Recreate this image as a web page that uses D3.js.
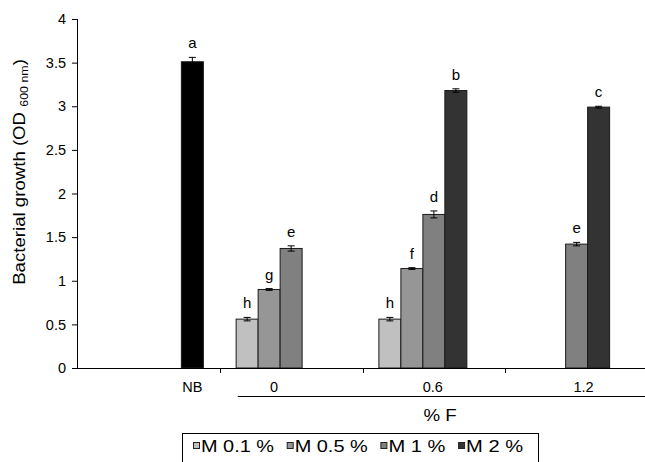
<!DOCTYPE html>
<html>
<head>
<meta charset="utf-8">
<script src="https://cdn.jsdelivr.net/npm/d3@7"></script>
<style>
  html, body { margin: 0; padding: 0; background: #fff; }
  svg { display: block; font-family: "Liberation Sans", Arial, sans-serif; }
</style>
</head>
<body>
<svg id="chart" width="645" height="462"></svg>
<script>
// ---- data ----
const categories = ["NB", "0", "0.6", "1.2"];
const series = ["M 0.1 %", "M 0.5 %", "M 1 %", "M 2 %", "NB"];
const legendSeries = ["M 0.1 %", "M 0.5 %", "M 1 %", "M 2 %"];
const valM01 = [null, 0.56, 0.56, null];
const valM05 = [null, 0.90, 1.14, null];
const valM1  = [null, 1.37, 1.76, 1.42];
const valM2  = [null, null, 3.18, 2.99];
const valNB  = [3.51, null, null, null];
const errM01 = [null, 0.02, 0.02, null];
const errM05 = [null, 0.01, 0.01, null];
const errM1  = [null, 0.03, 0.04, 0.02];
const errM2  = [null, null, 0.02, 0.01];
const errNB  = [0.05, null, null, null];
const letM01 = [null, "h", "h", null];
const letM05 = [null, "g", "f", null];
const letM1  = [null, "e", "d", "e"];
const letM2  = [null, null, "b", "c"];
const letNB  = ["a", null, null, null];
const yTicks = [0, 0.5, 1, 1.5, 2, 2.5, 3, 3.5, 4];
const yTickLabels = ["0", "0.5", "1", "1.5", "2", "2.5", "3", "3.5", "4"];
const yLabelMain = "Bacterial growth (OD ";
const yLabelSub = "600 nm";
const xTitle = "% F";

const seriesValues = [valM01, valM05, valM1, valM2, valNB];
const seriesErrors = [errM01, errM05, errM1, errM2, errNB];
const seriesLetters = [letM01, letM05, letM1, letM2, letNB];
const colors = ["#c0c0c0", "#969696", "#808080", "#333333", "#000000"];

// ---- layout ----
(function () {
const svg = d3.select("#chart");
const mLeft = 77, mRight = 648, mTop = 19, mBottom = 368;

const x = d3.scaleBand().domain(categories).range([mLeft, mRight]).paddingInner(0).paddingOuter(0);
const sub = d3.scaleBand().domain(series).range([0, x.bandwidth()]).paddingInner(0).paddingOuter(0.745);
const y = d3.scaleLinear().domain([0, 4]).range([mBottom, mTop]);

const rows = [];
series.forEach((s, si) => {
  categories.forEach((c, ci) => {
    const v = seriesValues[si][ci];
    if (v != null) rows.push({s, si, c, v, e: seriesErrors[si][ci], l: seriesLetters[si][ci]});
  });
});

// bars
svg.append("g").selectAll("rect").data(rows).join("rect")
  .attr("x", d => x(d.c) + sub(d.s))
  .attr("y", d => y(d.v))
  .attr("width", sub.bandwidth())
  .attr("height", d => y(0) - y(d.v))
  .attr("fill", d => colors[d.si])
  .attr("stroke", "#1a1a1a")
  .attr("stroke-width", 1);

// error bars
const eg = svg.append("g").attr("stroke", "#000").attr("stroke-width", 1);
rows.forEach(d => {
  const cx = x(d.c) + sub(d.s) + sub.bandwidth() / 2;
  eg.append("line").attr("x1", cx).attr("x2", cx).attr("y1", y(d.v - d.e)).attr("y2", y(d.v + d.e));
  eg.append("line").attr("x1", cx - 3.5).attr("x2", cx + 3.5).attr("y1", y(d.v + d.e)).attr("y2", y(d.v + d.e));
  eg.append("line").attr("x1", cx - 3.5).attr("x2", cx + 3.5).attr("y1", y(d.v - d.e)).attr("y2", y(d.v - d.e));
});

// letters
svg.append("g").selectAll("text").data(rows).join("text")
  .attr("x", d => x(d.c) + sub(d.s) + sub.bandwidth() / 2)
  .attr("y", d => y(d.v + d.e) - 9)
  .attr("text-anchor", "middle")
  .attr("font-size", 15)
  .attr("fill", "#000")
  .text(d => d.l);

// y axis
const yAxis = d3.axisLeft(y).tickValues(yTicks).tickFormat((d, i) => yTickLabels[i]).tickSize(5).tickSizeOuter(0).tickPadding(6);
const yg = svg.append("g").attr("transform", `translate(${mLeft},0)`).call(yAxis);
yg.selectAll("text").attr("font-size", 14.5).attr("font-family", "Liberation Sans, Arial, sans-serif").attr("fill", "#000");
yg.selectAll("line, path").attr("stroke", "#000");
yg.select(".domain").attr("d", `M0.5,${mTop}V${mBottom}`);

// x axis line with boundary ticks
const xg = svg.append("g").attr("stroke", "#000").attr("stroke-width", 1);
xg.append("line").attr("x1", mLeft).attr("x2", 645).attr("y1", mBottom + 0.5).attr("y2", mBottom + 0.5);
categories.slice(1).forEach(c => {
  const bx = Math.round(x(c)) + 0.5;
  xg.append("line").attr("x1", bx).attr("x2", bx).attr("y1", mBottom).attr("y2", mBottom + 5);
});

// category labels
const labelOffsets = [0, -17, -1, 7];
svg.append("g").selectAll("text").data(categories).join("text")
  .attr("x", (c, i) => i === 0 ? x(c) + sub("NB") + sub.bandwidth() / 2 : x(c) + x.bandwidth() / 2 + labelOffsets[i])
  .attr("y", 392)
  .attr("text-anchor", "middle")
  .attr("font-size", 14.5)
  .text(c => c);

// underline for % F group
svg.append("line").attr("x1", x("0") + 18).attr("x2", 645).attr("y1", 396.5).attr("y2", 396.5)
  .attr("stroke", "#000").attr("stroke-width", 1);

svg.append("text").attr("transform", "translate(440,421) scale(1.1,1)").attr("text-anchor", "middle")
  .attr("font-size", 17).text(xTitle);

// y label
const yl = svg.append("text")
  .attr("transform", `translate(25,172) rotate(-90) scale(1.13,1)`)
  .attr("text-anchor", "middle")
  .attr("font-size", 16.5);
yl.append("tspan").text(yLabelMain);
yl.append("tspan").attr("font-size", 11).attr("dy", 3).text(yLabelSub);
yl.append("tspan").attr("dy", -3).text(")");

// legend
const lg = svg.append("g");
lg.append("rect").attr("x", 182.5).attr("y", 433.5).attr("width", 356).attr("height", 40)
  .attr("fill", "#fff").attr("stroke", "#000").attr("stroke-width", 1);
const legW = [73, 73, 57, 57];
let lx = 193;
legendSeries.forEach((s, i) => {
  lg.append("rect").attr("x", lx + 0.5).attr("y", 442.5).attr("width", 6).attr("height", 6)
    .attr("fill", colors[i]).attr("stroke", "#222").attr("stroke-width", 1);
  lg.append("text").attr("x", lx + 8).attr("y", 452).attr("font-size", 16)
    .attr("textLength", legW[i]).attr("lengthAdjust", "spacingAndGlyphs").text(s);
  lx += 8 + legW[i] + 12.7;
});
})();
</script>
</body>
</html>
